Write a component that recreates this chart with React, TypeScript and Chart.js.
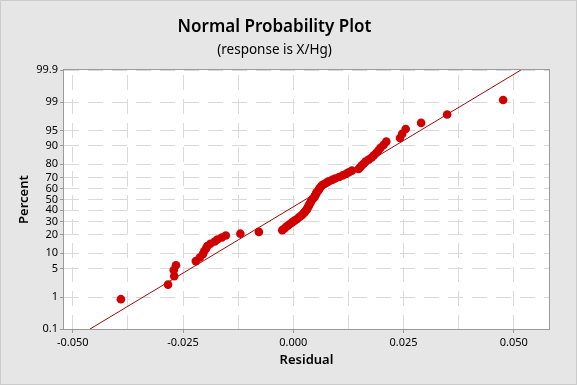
import { useEffect, useRef } from "react";
import { Chart, registerables } from "chart.js";

Chart.register(...registerables);

// ---------- data ----------
const residuals = [
  -0.0391, -0.0284, -0.0270, -0.0271, -0.0266, -0.0221, -0.0212, -0.0205, -0.0202, -0.0198,
  -0.0195, -0.0188, -0.0178, -0.0172, -0.0162, -0.0153, -0.0120, -0.0078, -0.0025, -0.0020,
  -0.0016, -0.0011, -0.0007, -0.0002, 0.0003, 0.0008, 0.0012, 0.0016, 0.0020, 0.0023,
  0.0026, 0.0028, 0.0031, 0.0032, 0.0034, 0.0035, 0.0037, 0.0039, 0.0040, 0.0042,
  0.0044, 0.0047, 0.0049, 0.0050, 0.0052, 0.0053, 0.0056, 0.0058, 0.0060, 0.0062,
  0.0065, 0.0069, 0.0075, 0.0080, 0.0088, 0.0095, 0.0104, 0.0112, 0.0120, 0.0126,
  0.0133, 0.0148, 0.0152, 0.0155, 0.0160, 0.0164, 0.0171, 0.0178, 0.0183, 0.0188,
  0.0193, 0.0198, 0.0205, 0.0211, 0.0242, 0.0247, 0.0255, 0.0290, 0.0349, 0.0476,
];

const percents = [
  0.87, 2.11, 3.36, 4.6, 5.85, 7.09, 8.33, 9.58, 10.82, 12.06,
  13.31, 14.55, 15.8, 17.04, 18.28, 19.53, 20.77, 22.01, 23.26, 24.5,
  25.75, 26.99, 28.23, 29.48, 30.72, 31.97, 33.21, 34.45, 35.7, 36.94,
  38.18, 39.43, 40.67, 41.92, 43.16, 44.4, 45.65, 46.89, 48.13, 49.38,
  50.62, 51.87, 53.11, 54.35, 55.6, 56.84, 58.08, 59.33, 60.57, 61.82,
  63.06, 64.3, 65.55, 66.79, 68.03, 69.28, 70.52, 71.77, 73.01, 74.25,
  75.5, 76.74, 77.99, 79.23, 80.47, 81.72, 82.96, 84.2, 85.45, 86.69,
  87.94, 89.18, 90.42, 91.67, 92.91, 94.15, 95.4, 96.64, 97.89, 99.13,
];

// fitted reference line (two end points, residual vs percent)
const fitResiduals = [-0.0461, 0.0516];
const fitPercents = [0.1, 99.9];

const yTickPercents = [0.1, 1, 5, 10, 20, 30, 40, 50, 60, 70, 80, 90, 95, 99, 99.9];
const yTickLabels = ["0.1", "1", "5", "10", "20", "30", "40", "50", "60", "70", "80", "90", "95", "99", "99.9"];

const xTickValues = [-0.05, -0.0375, -0.025, -0.0125, 0, 0.0125, 0.025, 0.0375, 0.05];
const xTickLabels = ["-0.050", "", "-0.025", "", "0.000", "", "0.025", "", "0.050"];

const titleText = "Normal Probability Plot";
const subtitleText = "(response is X/Hg)";
const xAxisTitle = "Residual";
const yAxisTitle = "Percent";

// ---------- helpers ----------
// inverse standard normal CDF (Acklam)
function probit(p: number): number {
  const a = [-39.69683028665376, 220.9460984245205, -275.9285104469687, 138.357751867269, -30.66479806614716, 2.506628277459239];
  const b = [-54.47609879822406, 161.5858368580409, -155.6989798598866, 66.80131188771972, -13.28068155288572];
  const c = [-0.007784894002430293, -0.3223964580411365, -2.400758277161838, -2.549732539343734, 4.374664141464968, 2.938163982698783];
  const d = [0.007784695709041462, 0.3224671290700398, 2.445134137142996, 3.754408661907416];
  const pl = 0.02425;
  const ph = 1 - pl;
  let q: number, r: number;
  if (p < pl) {
    q = Math.sqrt(-2 * Math.log(p));
    return (((((c[0] * q + c[1]) * q + c[2]) * q + c[3]) * q + c[4]) * q + c[5]) /
      ((((d[0] * q + d[1]) * q + d[2]) * q + d[3]) * q + 1);
  }
  if (p <= ph) {
    q = p - 0.5;
    r = q * q;
    return (((((a[0] * r + a[1]) * r + a[2]) * r + a[3]) * r + a[4]) * r + a[5]) * q /
      (((((b[0] * r + b[1]) * r + b[2]) * r + b[3]) * r + b[4]) * r + 1);
  }
  q = Math.sqrt(-2 * Math.log(1 - p));
  return -(((((c[0] * q + c[1]) * q + c[2]) * q + c[3]) * q + c[4]) * q + c[5]) /
    ((((d[0] * q + d[1]) * q + d[2]) * q + d[3]) * q + 1);
}

const FONT = "'Noto Sans', 'Open Sans', 'DejaVu Sans', sans-serif";
const GRID = "#d9d9d9";
const FRAME = "#9a9a9a";

const framePlugin = {
  id: "frame",
  beforeDraw(chart: any) {
    const { ctx, chartArea: a, width, height } = chart;
    ctx.save();
    ctx.fillStyle = "#e6e6e6";
    ctx.fillRect(0, 0, width, height);
    ctx.strokeStyle = "#cbcbcb";
    ctx.lineWidth = 1;
    ctx.strokeRect(0.5, 0.5, width - 1, height - 1);
    ctx.fillStyle = "#ffffff";
    ctx.fillRect(a.left, a.top, a.right - a.left, a.bottom - a.top);
    ctx.restore();
  },
  afterDraw(chart: any) {
    const { ctx, chartArea: a } = chart;
    ctx.save();
    ctx.strokeStyle = FRAME;
    ctx.lineWidth = 1;
    ctx.strokeRect(Math.round(a.left) - 0.5, Math.round(a.top) - 0.5, Math.round(a.right - a.left) + 1, Math.round(a.bottom - a.top) + 1);
    ctx.restore();
  },
};

export default function App() {
  const ref = useRef<HTMLCanvasElement | null>(null);

  useEffect(() => {
    if (!ref.current) return;
    const points = residuals.map((r, i) => ({ x: r, y: probit(percents[i] / 100) }));
    const fit = fitResiduals.map((r, i) => ({ x: r, y: probit(fitPercents[i] / 100) }));
    const zMin = probit(yTickPercents[0] / 100);
    const zMax = probit(yTickPercents[yTickPercents.length - 1] / 100);

    const chart = new Chart(ref.current, {
      type: "scatter",
      data: {
        datasets: [
          {
            label: "Residual",
            data: points,
            backgroundColor: "#d10000",
            borderColor: "#d10000",
            borderWidth: 0,
            pointRadius: 4.3,
            pointHoverRadius: 4.3,
            order: 0,
          },
          {
            type: "line",
            label: "Fit",
            data: fit,
            borderColor: "#9b0b0b",
            borderWidth: 1,
            pointRadius: 0,
            fill: false,
            order: 1,
          } as any,
        ],
      },
      options: {
        animation: false,
        responsive: false,
        maintainAspectRatio: false,
        events: [],
        layout: { padding: { top: 0, right: 28, bottom: 0, left: 0 } },
        plugins: {
          legend: { display: false },
          tooltip: { enabled: false },
          title: {
            display: true,
            text: titleText,
            color: "#000",
            font: { family: FONT, size: 17, weight: 600 as any, lineHeight: 1.2 },
            padding: { top: 17, bottom: 2 },
          },
          subtitle: {
            display: true,
            text: subtitleText,
            color: "#000",
            font: { family: FONT, size: 13.5, lineHeight: 1.2 },
            padding: { top: 3, bottom: 11.5 },
          },
        },
        scales: {
          x: {
            type: "linear",
            min: -0.052,
            max: 0.058,
            afterBuildTicks: (s: any) => {
              s.ticks = xTickValues.map((v) => ({ value: v }));
            },
            afterFit: (s: any) => {
              s.height = 56;
            },
            ticks: {
              autoSkip: false,
              maxRotation: 0,
              color: "#000",
              padding: 3,
              font: { family: FONT, size: 11 },
              callback: (_v: any, i: number) => xTickLabels[i],
            },
            grid: {
              color: GRID,
              lineWidth: 1,
              drawTicks: true,
              tickLength: 4,
              tickColor: (c: any) => (xTickLabels[c.index] ? FRAME : "rgba(0,0,0,0)"),
              tickBorderDash: [],
            },
            border: { display: false, dash: [15, 9], dashOffset: 19 },
            title: {
              display: true,
              text: xAxisTitle,
              color: "#000",
              font: { family: FONT, size: 13, weight: 600 as any, lineHeight: 1.2 },
              padding: { top: 0, bottom: 17.2 },
            },
          },
          y: {
            type: "linear",
            min: zMin,
            max: zMax,
            afterBuildTicks: (s: any) => {
              s.ticks = yTickPercents.map((p) => ({ value: probit(p / 100) }));
            },
            afterFit: (s: any) => {
              s.width = 64;
            },
            ticks: {
              autoSkip: false,
              color: "#000",
              padding: 2,
              font: { family: FONT, size: 11 },
              callback: (_v: any, i: number) => yTickLabels[i],
            },
            grid: {
              color: GRID,
              lineWidth: 1,
              drawTicks: true,
              tickLength: 4,
              tickColor: FRAME,
              tickBorderDash: [],
            },
            border: { display: false, dash: [15, 9], dashOffset: 0 },
            title: {
              display: true,
              text: yAxisTitle,
              color: "#000",
              font: { family: FONT, size: 13, weight: 600 as any, lineHeight: 1.2 },
              padding: { top: 16.2, bottom: 0 },
            },
          },
        },
      },
      plugins: [framePlugin],
    });
    return () => chart.destroy();
  }, []);

  return (
    <div style={{ position: "absolute", left: 0, top: 0, width: 577, height: 385 }}>
      <canvas ref={ref} width={577} height={385} style={{ display: "block", width: 577, height: 385 }} />
    </div>
  );
}
